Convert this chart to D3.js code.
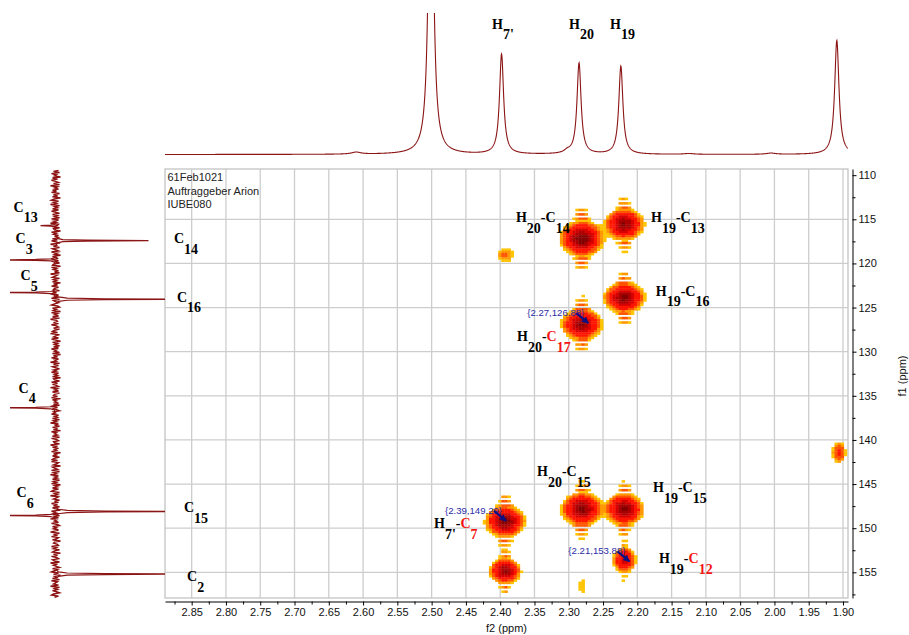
<!DOCTYPE html>
<html>
<head>
<meta charset="utf-8">
<title>HMBC 61Feb1021</title>
<script src="https://d3js.org/d3.v7.min.js"></script>
<style>
  html, body { margin: 0; padding: 0; background: #fff; }
  svg { display: block; }
</style>
</head>
<body>
<svg id="chart" width="909" height="635"></svg>
<script>
// ---------- axis ticks ----------
const f2Ticks = [2.85, 2.80, 2.75, 2.70, 2.65, 2.60, 2.55, 2.50, 2.45, 2.40,
                 2.35, 2.30, 2.25, 2.20, 2.15, 2.10, 2.05, 2.00, 1.95, 1.90];
const f1Ticks = [110, 115, 120, 125, 130, 135, 140, 145, 150, 155];

// ---------- 1H projection (f2): shift ppm, height, half width ppm ----------
const protonShift  = [2.610, 2.501, 2.398, 2.302, 2.285, 2.224, 2.125, 2.005, 1.909];
const protonHeight = [2.0,   420,   100,   2.5,   91,    88,    0.8,   1.2,   114];
const protonWidth  = [0.008, 0.0036, 0.0036, 0.006, 0.0036, 0.0036, 0.008, 0.008, 0.0038];

// ---------- 13C projection (f1): shift ppm, signed height ----------
const carbonShift  = [115.72, 117.42, 119.60, 123.30, 124.05, 136.36, 148.11, 148.56, 155.20];
const carbonHeight = [-15,    93,     -60,    -60,    150,    -60,    150,    -60,    150];
// baseline noise of the 13C trace, one value per 0.125 ppm from 109.45 ppm
const carbonNoise = [
  3,-2,4,-4,1,-1,5,-3,2,-4,0,3,-2,4,-5,2,-1,3,-3,1,
  -4,4,-2,2,-3,5,-1,-4,3,-2,1,-5,4,-1,2,-3,3,-4,0,4,
  -3,2,-1,4,-4,3,-2,1,-5,3,2,-3,4,-2,-1,5,-4,1,-2,3,
  -1,4,-3,2,-4,1,3,-5,2,-2,4,-3,0,3,-4,2,-1,5,-3,1,
  2,-4,3,-1,4,-2,-3,5,-4,1,-2,3,-1,4,-5,2,0,-3,4,-2,
  1,-3,5,-2,2,-4,3,-1,-2,4,-3,1,-5,3,-1,2,-4,4,-2,0,
  3,-1,-4,2,4,-3,1,-2,5,-4,2,-1,3,-3,4,-5,1,2,-2,3,
  -4,1,3,-2,4,-1,-3,2,-5,4,0,-2,3,-4,1,5,-3,2,-1,4,
  -2,3,-4,1,-1,4,-3,5,-2,2,-4,3,-1,1,-5,4,-2,3,-3,0,
  4,-2,1,-4,3,-1,2,-3,5,-2,-1,4,-4,2,-3,1,3,-5,2,-1,
  3,-3,4,-1,-2,2,-4,5,-3,1,-1,3,-2,4,-5,2,-3,1,4,-2,
  0,-4,3,-1,2,-3,4,-2,1,-5,3,-1,4,-3,2,-2,5,-4,1,-1,
  2,-3,4,-4,1,3,-2,-1,4,-5,2,-3,3,-1,1,-4,5,-2,2,-3,
  4,-1,-3,2,-4,3,1,-2,5,-3,-1,2,-4,4,-2,1,-5,3,-1,2,
  -3,4,-2,1,-4,5,-1,2,-3,3,-2,-4,4,-1,2,-5,3,1,-2,4,
  -1,3,-4,2,-2,4,-3,1,5,-4,-1,2,-3,4,-2,3,-5,1,-1,3,
  -4,2,4,-3,1,-2,3,-1,-5,4,-2,2,-4,3,1,-3,5,-1,-2,2,
  3,-4,1,-2,4,-1,-3,5,-2,2,-4,1,3,-3,-1,4,-5,2,-2,1,
  4,-3,2,-1,-4,3,-2,5,-1,1,-3,4,-4,2,0,-2,3,-5,4,-1,
  2,-3,1,4,-2,-4,3,-1
];

// ---------- HMBC cross peaks: f2 ppm, f1 ppm, intensity, half widths ----------
const peakF2  = [2.281, 2.219, 2.219, 2.281, 2.393, 2.393, 2.281, 2.219, 2.219, 2.393, 1.906, 2.280];
const peakF1  = [117.2, 115.55, 123.9, 126.9, 119.05, 149.25, 147.85, 147.85, 153.6, 154.85, 141.4, 156.5];
const peakAmp = [1.0,   0.85,  0.9,   0.85,  0.13,  0.95,  0.9,   0.9,   0.5,   0.85,  0.22,  0.06];
const peakW2  = [0.0148, 0.0137, 0.0142, 0.0142, 0.0095, 0.0137, 0.0142, 0.0132, 0.009, 0.011, 0.0065, 0.007];
const peakW1  = [1.0,   0.9,   0.86,  0.9,   0.62,  0.9,   0.95,  0.9,   0.8,   0.74,  0.78,  1.2];

// contour levels and their colours
const levels      = [0.045, 0.065, 0.1, 0.17, 0.38, 0.6, 0.82];
const levelColors = ["#ffc400", "#ff9800", "#ff5400", "#ff1400", "#d60000", "#aa0000", "#820000"];

// ---------- annotations ----------
const headerLines = ["61Feb1021", "Auftraggeber Arion", "IUBE080"];
const protonLabels = [
  { f2: 2.4119, h: 126, parts: [["H"], ["7'", 1]] },
  { f2: 2.2996, h: 126, parts: [["H"], ["20", 1]] },
  { f2: 2.2398, h: 126, parts: [["H"], ["19", 1]] }
];
const carbonLabels = [
  { v: -42, f1: 114.17, parts: [["C"], ["13", 1]] },
  { v: -40, f1: 117.69, parts: [["C"], ["3", 1]] },
  { v: -35, f1: 121.88, parts: [["C"], ["5", 1]] },
  { v: -37, f1: 134.68, parts: [["C"], ["4", 1]] },
  { v: -39, f1: 146.47, parts: [["C"], ["6", 1]] }
];
const crossLabels = [
  { f2: 2.377,  f1: 115.31, parts: [["H"], ["20", 1], ["-C"], ["14", 1]] },
  { f2: 2.180,  f1: 115.31, parts: [["H"], ["19", 1], ["-C"], ["13", 1]] },
  { f2: 2.173,  f1: 123.69, parts: [["H"], ["19", 1], ["-C"], ["16", 1]] },
  { f2: 2.3755, f1: 128.79, parts: [["H"], ["20", 1], ["-"], ["C", 0, 1], ["17", 1, 1]] },
  { f2: 2.3463, f1: 144.09, parts: [["H"], ["20", 1], ["-C"], ["15", 1]] },
  { f2: 2.1771, f1: 145.90, parts: [["H"], ["19", 1], ["-C"], ["15", 1]] },
  { f2: 2.4965, f1: 149.98, parts: [["H"], ["7'", 1], ["-"], ["C", 0, 1], ["7", 1, 1]] },
  { f2: 2.1684, f1: 153.95, parts: [["H"], ["19", 1], ["-"], ["C", 0, 1], ["12", 1, 1]] },
  { f2: 2.8758, f1: 117.69, parts: [["C"], ["14", 1]] },
  { f2: 2.8714, f1: 124.37, parts: [["C"], ["16", 1]] },
  { f2: 2.8612, f1: 148.17, parts: [["C"], ["15", 1]] },
  { f2: 2.8568, f1: 155.99, parts: [["C"], ["2", 1]] }
];
const markerF2 = [2.27, 2.39, 2.21];
const markerF1 = [126.88, 149.29, 153.88];

// ---------- layout & scales ----------
const svg = d3.select("#chart");
const plot = { left: 165, top: 169, right: 848, bottom: 598 };
const x = d3.scaleLinear().domain([2.8889, 1.8927]).range([plot.left, plot.right]);
const y = d3.scaleLinear().domain([109.30, 157.91]).range([plot.top, plot.bottom]);
const hTop = d3.scaleLinear().domain([0, 100]).range([154.5, 54.5]);
const cLeft = d3.scaleLinear().domain([0, 100]).range([55.5, 155.5]);

const defs = svg.append("defs");
defs.append("clipPath").attr("id", "clip-plot").append("rect")
  .attr("x", plot.left).attr("y", plot.top)
  .attr("width", plot.right - plot.left).attr("height", plot.bottom - plot.top);
defs.append("clipPath").attr("id", "clip-top").append("rect")
  .attr("x", plot.left).attr("y", 13).attr("width", plot.right - plot.left).attr("height", 150);
defs.append("clipPath").attr("id", "clip-left").append("rect")
  .attr("x", 10).attr("y", plot.top).attr("width", plot.left - 10).attr("height", plot.bottom - plot.top);
defs.append("marker").attr("id", "arrow").attr("viewBox", "0 0 10 10")
  .attr("refX", 9).attr("refY", 5).attr("markerWidth", 3.2).attr("markerHeight", 3.2)
  .attr("orient", "auto")
  .append("path").attr("d", "M0,0L10,5L0,10z").attr("fill", "#101080");

// ---------- grid ----------
const grid = svg.append("g");
grid.selectAll("line.v").data(f2Ticks).join("line").attr("class", "v")
  .attr("x1", d => x(d)).attr("x2", d => x(d))
  .attr("y1", plot.top).attr("y2", plot.bottom)
  .attr("stroke", "#cdcdcd").attr("stroke-width", 1.3);
grid.selectAll("line.h").data(f1Ticks.filter(d => y(d) - plot.top > 8)).join("line").attr("class", "h")
  .attr("x1", plot.left).attr("x2", plot.right)
  .attr("y1", d => y(d)).attr("y2", d => y(d))
  .attr("stroke", "#cdcdcd").attr("stroke-width", 1.3);
svg.append("rect")
  .attr("x", plot.left).attr("y", plot.top)
  .attr("width", plot.right - plot.left).attr("height", plot.bottom - plot.top)
  .attr("fill", "none").attr("stroke", "#c4c4c4").attr("stroke-width", 1.3);

// ---------- 2D contour cells ----------
const LN2 = Math.LN2;
const step2 = 0.0045, step1 = 0.25;
const f2Hi = x.domain()[0], f2Lo = x.domain()[1];
const f1Lo = y.domain()[0], f1Hi = y.domain()[1];
const n2 = Math.ceil((f2Hi - f2Lo) / step2);
const n1 = Math.ceil((f1Hi - f1Lo) / step1);
const cells = [];
for (let j = 0; j < n1; j++) {
  const f1c = f1Lo + (j + 0.5) * step1;
  for (let i = 0; i < n2; i++) {
    const f2c = f2Hi - (i + 0.5) * step2;
    let s = 0;
    for (let k = 0; k < peakF2.length; k++) {
      const du = (f2c - peakF2[k]) / peakW2[k];
      if (Math.abs(du) > 7) continue;
      const dy = f1c - peakF1[k];
      const dv = dy / peakW1[k];
      if (Math.abs(dv) > 7) continue;
      const p2 = 0.88 * Math.exp(-LN2 * du * du) + 0.12 / (1 + du * du);
      let val = p2 * Math.exp(-LN2 * dv * dv);
      // t1 ripple: thin bars on alternate rows beyond the peak body
      const r = Math.round(dy / step1);
      if (r % 2 !== 0 && Math.abs(dv) > 1.9) {
        const q = (Math.abs(dv) - 2.5) / 1.2;
        val += 0.11 * Math.exp(-q * q) * Math.exp(-LN2 * (du / 0.6) * (du / 0.6));
      }
      s += peakAmp[k] * val;
    }
    let lev = -1;
    for (let l = 0; l < levels.length; l++) if (s >= levels[l]) lev = l;
    if (lev >= 0) cells.push({ f2: f2c, f1: f1c, lev });
  }
}
svg.append("g").attr("clip-path", "url(#clip-plot)")
  .selectAll("rect").data(cells).join("rect")
  .attr("x", d => x(d.f2 + step2 / 2))
  .attr("y", d => y(d.f1 - step1 / 2))
  .attr("width", d => x(d.f2 - step2 / 2) - x(d.f2 + step2 / 2) + 0.35)
  .attr("height", d => y(d.f1 + step1 / 2) - y(d.f1 - step1 / 2) + 0.35)
  .attr("fill", d => levelColors[d.lev]);

// ---------- 1H projection ----------
const protonPts = d3.range(f2Hi, f2Lo, -0.0004).map(f => {
  let v = 0;
  for (let k = 0; k < protonShift.length; k++) {
    const d = (f - protonShift[k]) / protonWidth[k];
    v += protonHeight[k] / (1 + d * d);
  }
  return { f, v };
});
svg.append("path").attr("clip-path", "url(#clip-top)")
  .datum(protonPts)
  .attr("d", d3.line().x(d => x(d.f)).y(d => hTop(d.v)))
  .attr("fill", "none").attr("stroke", "#8b1515").attr("stroke-width", 1.1);

// ---------- 13C projection ----------
const leftG = svg.append("g").attr("clip-path", "url(#clip-left)");
const noisePts = carbonNoise.map((v, i) => ({ f1: 109.45 + i * 0.125, v }));
leftG.append("path").datum(noisePts)
  .attr("d", d3.line().x(d => cLeft(d.v)).y(d => y(d.f1)))
  .attr("fill", "none").attr("stroke", "#8b1010").attr("stroke-width", 1.4);
const offs = [-0.5, -0.25, -0.12, -0.05, 0, 0.05, 0.12, 0.25, 0.5];
carbonShift.forEach((c, k) => {
  const pts = offs.map(o => ({ f1: c + o, v: carbonHeight[k] / (1 + (o / 0.035) * (o / 0.035)) }));
  leftG.append("path").datum(pts)
    .attr("d", d3.line().x(d => cLeft(d.v)).y(d => y(d.f1)))
    .attr("fill", "none").attr("stroke", "#8b1515").attr("stroke-width", 1.2);
});

// ---------- axes ----------
function styleAxis(g) {
  g.attr("font-family", "'Liberation Sans', Arial, sans-serif").attr("font-size", 11);
  g.selectAll("text").attr("fill", "#111");
  g.selectAll("line, path").attr("stroke", "#000");
}
const f2Minor = d3.range(2.875, 1.89, -0.05);
const f1Minor = d3.range(112.5, 158, 5);
svg.append("g").attr("transform", "translate(0,601.5)")
  .call(d3.axisBottom(x).tickValues(f2Minor).tickFormat("").tickSize(3).tickSizeOuter(0))
  .call(g => g.select(".domain").remove()).call(styleAxis);
svg.append("g").attr("transform", "translate(0,601.5)")
  .call(d3.axisBottom(x).tickValues(f2Ticks).tickFormat(d3.format(".2f")).tickSize(4).tickPadding(3).tickSizeOuter(0))
  .call(styleAxis);
svg.append("g").attr("transform", "translate(852.5,0)")
  .call(d3.axisRight(y).tickValues(f1Minor).tickFormat("").tickSize(3).tickSizeOuter(0))
  .call(g => g.select(".domain").remove()).call(styleAxis);
svg.append("g").attr("transform", "translate(852.5,0)")
  .call(d3.axisRight(y).tickValues(f1Ticks).tickSize(4).tickPadding(2).tickSizeOuter(0))
  .call(styleAxis);

svg.append("text").attr("x", (plot.left + plot.right) / 2).attr("y", 632)
  .attr("text-anchor", "middle")
  .attr("font-family", "'Liberation Sans', Arial, sans-serif").attr("font-size", 11).attr("fill", "#111")
  .text("f2 (ppm)");
svg.append("text").attr("transform", "translate(906,376) rotate(-90)")
  .attr("text-anchor", "middle")
  .attr("font-family", "'Liberation Sans', Arial, sans-serif").attr("font-size", 11).attr("fill", "#111")
  .text("f1 (ppm)");

// ---------- header text ----------
svg.append("g").selectAll("text").data(headerLines).join("text")
  .attr("x", 167.5).attr("y", (d, i) => 181 + i * 13.5)
  .attr("font-family", "'Liberation Sans', Arial, sans-serif").attr("font-size", 11).attr("fill", "#222")
  .text(d => d);

// ---------- assignment labels ----------
function drawLabel(px, py, parts) {
  const t = svg.append("text").attr("x", px).attr("y", py)
    .attr("font-family", "'Liberation Serif', 'Times New Roman', serif")
    .attr("font-weight", "bold").attr("font-size", 14);
  let prevSub = false;
  parts.forEach(([txt, sub, red]) => {
    const isSub = !!sub;
    const dy = isSub === prevSub ? 0 : (isSub ? 10.5 : -10.5);
    t.append("tspan").attr("dy", dy).attr("fill", red ? "#f41414" : "#000").text(txt);
    prevSub = isSub;
  });
}
protonLabels.forEach(d => drawLabel(x(d.f2), hTop(d.h), d.parts));
carbonLabels.forEach(d => drawLabel(cLeft(d.v), y(d.f1), d.parts));
crossLabels.forEach(d => drawLabel(x(d.f2), y(d.f1), d.parts));

// ---------- coordinate markers ----------
const fmt = d3.format(".2f");
markerF2.forEach((f2, i) => {
  const px = x(f2), py = y(markerF1[i]);
  svg.append("text").attr("x", px - 5).attr("y", py - 8).attr("text-anchor", "end")
    .attr("font-family", "'Liberation Sans', Arial, sans-serif").attr("font-size", 9.6)
    .attr("fill", "#2c2ca6")
    .text(`{${fmt(f2)},${fmt(markerF1[i])}}`);
  svg.append("line")
    .attr("x1", px - 13).attr("y1", py - 11).attr("x2", px - 1).attr("y2", py - 1)
    .attr("stroke", "#101080").attr("stroke-width", 2.2)
    .attr("marker-end", "url(#arrow)");
});
</script>
</body>
</html>
